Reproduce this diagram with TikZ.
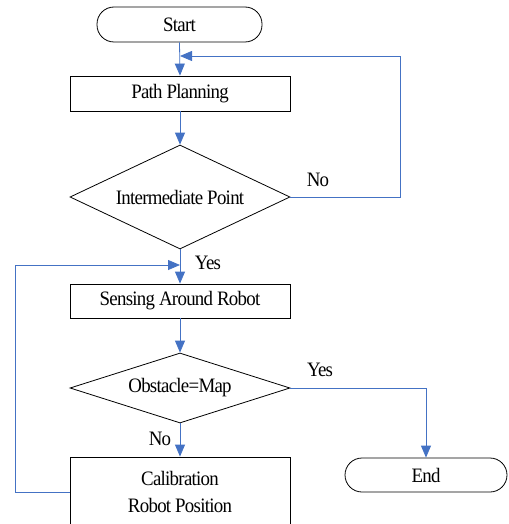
\documentclass[tikz,border=0pt]{standalone}
\usepackage{fontspec}
\setmainfont[FakeStretch=0.92,LetterSpace=-3.5]{Liberation Serif}
\usetikzlibrary{shapes.geometric,arrows.meta}
\definecolor{flowblue}{RGB}{68,114,196}
\tikzset{
  every node/.style={font=\fontsize{20.5}{28}\selectfont},
  procbox/.style={draw=black,line width=0.8pt,rectangle,minimum width=220pt,inner sep=0pt,align=center},
  termbox/.style={draw=black,line width=0.8pt,rectangle,rounded corners=17pt,inner sep=0pt},
  decbox/.style={draw=black,line width=0.8pt,diamond,inner sep=0pt,minimum width=220pt,shape aspect=2.2},
  flow/.style={draw=flowblue,line width=0.8pt,-{Triangle[length=12pt,width=10pt]}},
  plainflow/.style={draw=flowblue,line width=0.8pt},
  lbl/.style={inner sep=0pt}
}
\begin{document}
\begin{tikzpicture}[x=1pt,y=-1pt]
\useasboundingbox (0,0) rectangle (508,524);
\clip (0,0) rectangle (508,524);
\node[termbox,minimum width=165pt,minimum height=35pt] (start) at (179.5,24.5) {Start};
\node[procbox,minimum height=35pt] (plan) at (180,93.5) {Path Planning};
\node[decbox,minimum height=104pt] (d1) at (180,197) {Intermediate Point};
\node[procbox,minimum height=34pt] (sense) at (180,301) {Sensing Around Robot};
\node[decbox,minimum height=70pt] (d2) at (180,388) {Obstacle=Map};
\node[procbox,minimum height=70pt] (calib) at (180,492) {Calibration\\[-1pt]Robot Position};
\node[termbox,minimum width=162pt,minimum height=34pt] (end) at (426,475) {End};

\coordinate (m1) at (180,56);
\coordinate (c1) at (400,56);
\coordinate (m2) at (180,265);
\coordinate (c2) at (15,265);

\draw[flow] (start.south) -- (plan.north);
\draw[flow] (plan.south) -- (d1.north);
\draw[flow] (d1.east) -| (c1) -- (m1);
\draw[flow] (d1.south) -- (sense.north);
\draw[flow] (calib.west) -| (c2) -- (m2);
\draw[flow] (sense.south) -- (d2.north);
\draw[flow] (d2.east) -| (end.north);
\draw[flow] (d2.south) -- (calib.north);

\node[lbl] (no1) at (318,180) {No};
\node[lbl] (yes1) at (208,263) {Yes};
\node[lbl] (yes2) at (320,370) {Yes};
\node[lbl] (no2) at (160,439) {No};
\end{tikzpicture}
\end{document}
